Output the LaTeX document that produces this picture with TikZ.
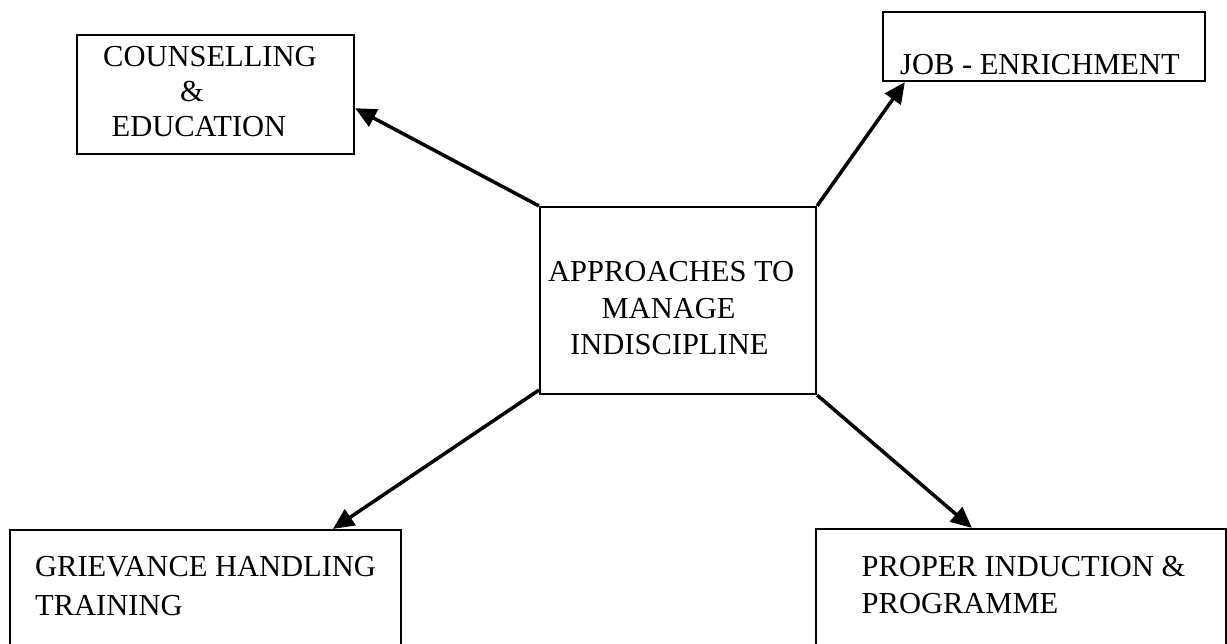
\documentclass[tikz,border=0pt]{standalone}
\usepackage{fontspec}
\setmainfont{Liberation Serif}
\usetikzlibrary{arrows.meta,calc}
\begin{document}
\begin{tikzpicture}[x=1pt,y=-1pt,
  box/.style={draw,line width=2.2pt,inner sep=0pt,rectangle},
  txt/.style={anchor=base west,inner sep=0pt,font=\fontsize{30.5}{35}\selectfont},
  conn/.style={line width=3.5pt,-{Triangle[length=21pt,width=19pt]}}]
\useasboundingbox (0,0) rectangle (1227,644);
% boxes
\node[box,minimum width=277pt,minimum height=119pt] (couns) at (215.5,94.5) {};
\node[box,minimum width=322pt,minimum height=69pt] (job) at (1044,46.5) {};
\node[box,minimum width=276pt,minimum height=187pt] (center) at (678,300.5) {};
\node[box,minimum width=391pt,minimum height=140pt] (griev) at (205.5,600) {};
\node[box,minimum width=410pt,minimum height=140pt] (induc) at (1021,599) {};
% texts
\node[txt] (t1) at (103,66.7) {COUNSELLING};
\node[txt] (t2) at (180,101.7) {\&};
\node[txt] (t3) at (111.5,136.7) {EDUCATION};
\node[txt] (t4) at (900,75) {JOB - ENRICHMENT};
\node[txt] (t5) at (548,281.7) {APPROACHES TO};
\node[txt] (t6) at (601.5,318.3) {MANAGE};
\node[txt] (t7) at (570,355) {INDISCIPLINE};
\node[txt] (t8) at (35,576.7) {GRIEVANCE HANDLING};
\node[txt] (t9) at (35,615) {TRAINING};
\node[txt] (t10) at (861.5,576.7) {PROPER INDUCTION \&};
\node[txt] (t11) at (861.5,613.3) {PROGRAMME};
% connectors
\draw[conn] (center.north west) -- ($(couns.north east)!0.613!(couns.south east)$);
\draw[conn] (center.north east) -- ($(job.south west)+(23,0)$);
\draw[conn] ($(center.south west)+(0,-5)$) -- ($(griev.north west)+(324,0)$);
\draw[conn] (center.south east) -- ($(induc.north west)+(157,0)$);
\end{tikzpicture}
\end{document}
